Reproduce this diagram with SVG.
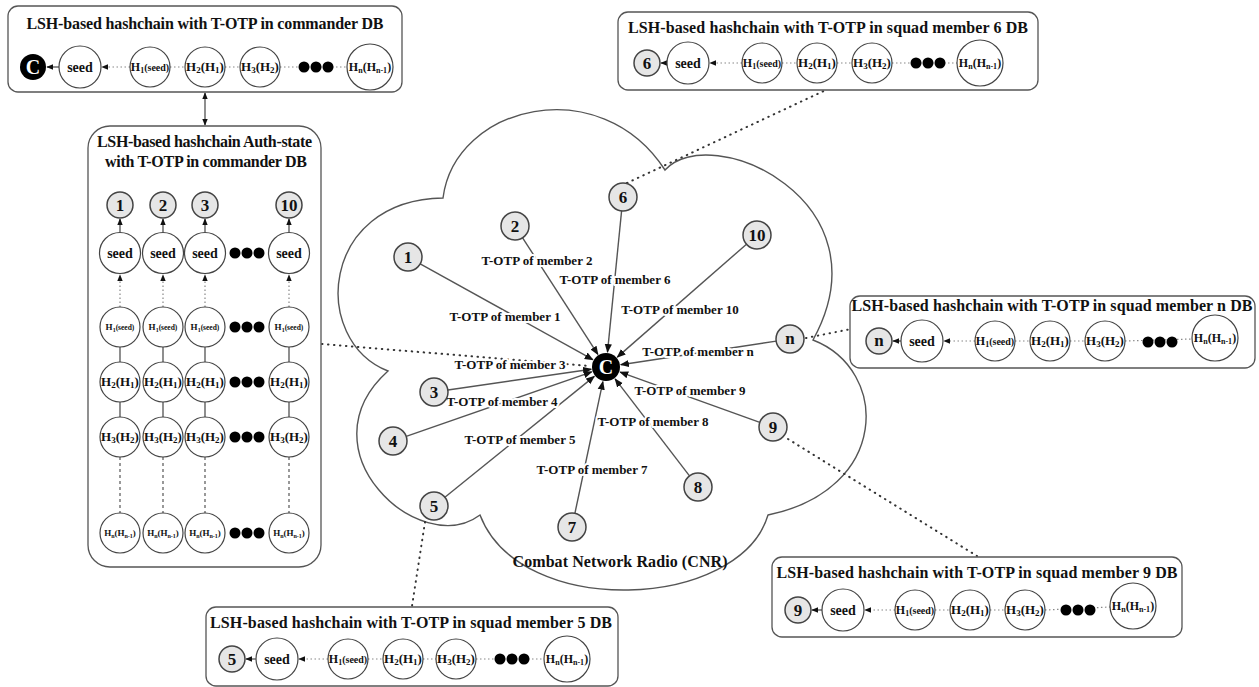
<svg xmlns="http://www.w3.org/2000/svg" width="1259" height="687" viewBox="0 0 1259 687">
<defs>
<style>
.box{fill:#fff;stroke:#555;stroke-width:1.3}
.n{fill:#fff;stroke:#444;stroke-width:1.2}
.g{fill:#e6e6e6;stroke:#444;stroke-width:1.5}
.t{font-family:"Liberation Serif","Times New Roman",serif;font-weight:bold;fill:#111}
.title{font-size:16px}
.seed{font-size:14px}
.num{font-size:17px}
.lbl{font-size:13px;paint-order:stroke;stroke:#fff;stroke-width:4px;stroke-linejoin:round}
.dl{stroke:#888;stroke-width:1.2;stroke-dasharray:1.5 2.5;fill:none}
.sl{stroke:#444;stroke-width:1.2;fill:none}
.dash{stroke:#555;stroke-width:1.2;stroke-dasharray:3 3;fill:none}
.ar{marker-end:url(#sa)}
.edge{stroke:#555;stroke-width:1.4;fill:none;marker-end:url(#ah)}
.far{stroke:#333;stroke-width:2;stroke-dasharray:0.5 5.5;stroke-linecap:round;fill:none}
.cloud{fill:#fff;stroke:#555;stroke-width:1.4}
</style>
<marker id="ah" viewBox="0 0 10 10" refX="9" refY="5" markerUnits="userSpaceOnUse" markerWidth="9" markerHeight="9" orient="auto-start-reverse"><path d="M0,1 L10,5 L0,9 z" fill="#111"/></marker>
<marker id="sa" viewBox="0 0 10 10" refX="9" refY="5" markerUnits="userSpaceOnUse" markerWidth="7" markerHeight="7" orient="auto-start-reverse"><path d="M0,1 L10,5 L0,9 z" fill="#111"/></marker>
</defs>
<rect width="1259" height="687" fill="#fff"/>

<!-- cloud -->
<path id="cloud" class="cloud" d="M443,198 C455,105 600,70 665,170 C710,120 890,200 813,340 C890,370 890,490 768,515 C740,610 520,620 480,515 C420,560 300,450 388,371 C310,340 320,200 443,198 Z"/>
<text class="t" x="620" y="567" font-size="16" text-anchor="middle" textLength="215">Combat Network Radio (CNR)</text>

<!-- connectors -->
<g id="connectors">
<line class="far" x1="322" y1="344" x2="590" y2="366"/>
<line class="far" x1="627" y1="183" x2="828" y2="89"/>
<line class="far" x1="806" y1="338" x2="851" y2="329"/>
<line class="far" x1="788" y1="439" x2="977" y2="556"/>
<line class="far" x1="425" y1="522" x2="412" y2="606"/>
<line class="sl" x1="205" y1="93" x2="205" y2="125" marker-start="url(#sa)" marker-end="url(#sa)"/>
<line class="edge" x1="420.2" y1="263.8" x2="592.9" y2="359.7"/>
<line class="edge" x1="522.6" y1="237.8" x2="597.9" y2="354.4"/>
<line class="edge" x1="621.6" y1="210.9" x2="607.5" y2="352.1"/>
<line class="edge" x1="746.5" y1="244.2" x2="617.3" y2="357.1"/>
<line class="edge" x1="776.2" y1="341.1" x2="620.8" y2="364.7"/>
<line class="edge" x1="759.8" y1="422.3" x2="620.1" y2="372.1"/>
<line class="edge" x1="689.5" y1="475.9" x2="615.1" y2="378.9"/>
<line class="edge" x1="574.9" y1="513.3" x2="602.9" y2="381.7"/>
<line class="edge" x1="444.9" y1="497.2" x2="594.3" y2="376.4"/>
<line class="edge" x1="406.2" y1="436.4" x2="591.8" y2="371.9"/>
<line class="edge" x1="447.9" y1="390" x2="591.2" y2="369.2"/>
</g>

<!-- labels -->
<g id="labels" class="t lbl" text-anchor="middle">
<text x="537" y="265">T-OTP of member 2</text>
<text x="615" y="284">T-OTP of member 6</text>
<text x="505" y="321">T-OTP of member 1</text>
<text x="680" y="314">T-OTP of member 10</text>
<text x="698" y="356">T-OTP of member n</text>
<text x="510" y="369">T-OTP of member 3</text>
<text x="502" y="406">T-OTP of member 4</text>
<text x="690" y="395">T-OTP of member 9</text>
<text x="653" y="426">T-OTP of member 8</text>
<text x="520" y="444">T-OTP of member 5</text>
<text x="592" y="474">T-OTP of member 7</text>
</g>

<!-- member nodes -->
<g class="t num" text-anchor="middle">
<g id="m1"><circle class="g" cx="408" cy="257" r="14"/><text x="408" y="263">1</text></g>
<g id="m2"><circle class="g" cx="515" cy="226" r="14"/><text x="515" y="232">2</text></g>
<g id="m6"><circle class="g" cx="623" cy="197" r="14"/><text x="623" y="203">6</text></g>
<g id="m10"><circle class="g" cx="757" cy="235" r="14"/><text x="757" y="241">10</text></g>
<g id="mn"><circle class="g" cx="790" cy="339" r="14"/><text x="790" y="344">n</text></g>
<g id="m9"><circle class="g" cx="773" cy="427" r="14"/><text x="773" y="433">9</text></g>
<g id="m8"><circle class="g" cx="698" cy="487" r="14"/><text x="698" y="493">8</text></g>
<g id="m7"><circle class="g" cx="572" cy="527" r="14"/><text x="572" y="533">7</text></g>
<g id="m5"><circle class="g" cx="434" cy="506" r="14"/><text x="434" y="512">5</text></g>
<g id="m4"><circle class="g" cx="393" cy="441" r="14"/><text x="393" y="447">4</text></g>
<g id="m3"><circle class="g" cx="434" cy="392" r="14"/><text x="434" y="398">3</text></g>
</g>
<g id="commander"><circle cx="606" cy="367" r="14" fill="#000"/><text class="t" x="606" y="374" font-size="20" text-anchor="middle" style="fill:#fff">C</text></g>

<!-- Commander DB -->
<g id="commanderDB">
<rect class="box" x="8" y="6" width="394" height="86" rx="10"/>
<text class="t title" x="205" y="29" text-anchor="middle" textLength="357">LSH-based hashchain with T-OTP in commander DB</text>
<line class="sl ar" x1="59" y1="67" x2="47" y2="67"/>
<line class="dl ar" x1="130" y1="67" x2="102" y2="67"/>
<line class="dl" x1="170" y1="67" x2="185" y2="67"/>
<line class="dl" x1="225" y1="67" x2="240" y2="67"/>
<line class="dl" x1="280" y1="67" x2="347" y2="67"/>
<circle cx="33" cy="67" r="13" fill="#000"/><text class="t" x="33" y="74" font-size="20" text-anchor="middle" style="fill:#fff">C</text>
<circle class="n" cx="80" cy="67" r="21"/><text class="t seed" x="80" y="72" text-anchor="middle">seed</text>
<circle class="n" cx="150" cy="67" r="20"/><text class="t" x="150" y="71" font-size="12" text-anchor="middle">H<tspan font-size="8" dy="2">1</tspan><tspan font-size="10" dy="-2">(seed)</tspan></text>
<circle class="n" cx="205" cy="67" r="20"/><text class="t" x="205" y="71" font-size="13" text-anchor="middle">H<tspan font-size="9" dy="2">2</tspan><tspan dy="-2">(H</tspan><tspan font-size="9" dy="2">1</tspan><tspan dy="-2">)</tspan></text>
<circle class="n" cx="260" cy="67" r="20"/><text class="t" x="260" y="71" font-size="13" text-anchor="middle">H<tspan font-size="9" dy="2">3</tspan><tspan dy="-2">(H</tspan><tspan font-size="9" dy="2">2</tspan><tspan dy="-2">)</tspan></text>
<circle cx="304" cy="67" r="5.5" fill="#000"/><circle cx="316" cy="67" r="5.5" fill="#000"/><circle cx="328" cy="67" r="5.5" fill="#000"/>
<circle class="n" cx="370" cy="67" r="23"/><text class="t" x="370" y="71" font-size="12" text-anchor="middle">H<tspan font-size="8" dy="2">n</tspan><tspan dy="-2">(H</tspan><tspan font-size="8" dy="2">n-1</tspan><tspan dy="-2">)</tspan></text>
</g>

<!-- Auth-state box -->
<g id="authDB">
<rect class="box" x="88" y="126" width="233" height="441" rx="22"/>
<text class="t title" x="204.5" y="147" text-anchor="middle" textLength="215">LSH-based hashchain Auth-state</text>
<text class="t title" x="206" y="167" text-anchor="middle" textLength="202">with T-OTP in commander DB</text>
<g id="authCols">
<line class="sl ar" x1="120" y1="232" x2="120" y2="219"/><line class="sl ar" x1="163" y1="232" x2="163" y2="219"/><line class="sl ar" x1="205" y1="232" x2="205" y2="219"/><line class="sl ar" x1="289" y1="232" x2="289" y2="219"/>
<line class="dl ar" x1="120" y1="307" x2="120" y2="275"/><line class="dl ar" x1="163" y1="307" x2="163" y2="275"/><line class="dl ar" x1="205" y1="307" x2="205" y2="275"/><line class="dl ar" x1="289" y1="307" x2="289" y2="275"/>
<line class="sl" x1="120" y1="347" x2="120" y2="362"/><line class="sl" x1="163" y1="347" x2="163" y2="362"/><line class="sl" x1="205" y1="347" x2="205" y2="362"/><line class="sl" x1="289" y1="347" x2="289" y2="362"/>
<line class="sl" x1="120" y1="402" x2="120" y2="417"/><line class="sl" x1="163" y1="402" x2="163" y2="417"/><line class="sl" x1="205" y1="402" x2="205" y2="417"/><line class="sl" x1="289" y1="402" x2="289" y2="417"/>
<line class="dash" x1="120" y1="457" x2="120" y2="513"/><line class="dash" x1="163" y1="457" x2="163" y2="513"/><line class="dash" x1="205" y1="457" x2="205" y2="513"/><line class="dash" x1="289" y1="457" x2="289" y2="513"/>
</g>
<g class="t num" text-anchor="middle">
<circle class="g" cx="120" cy="205" r="13"/><text x="120" y="211">1</text>
<circle class="g" cx="163" cy="205" r="13"/><text x="163" y="211">2</text>
<circle class="g" cx="205" cy="205" r="13"/><text x="205" y="211">3</text>
<circle class="g" cx="289" cy="205" r="13"/><text x="289" y="211">10</text>
</g>
<g class="t seed" text-anchor="middle">
<circle class="n" cx="120" cy="253" r="20.5"/><text x="120" y="258">seed</text>
<circle class="n" cx="163" cy="253" r="20.5"/><text x="163" y="258">seed</text>
<circle class="n" cx="205" cy="253" r="20.5"/><text x="205" y="258">seed</text>
<circle class="n" cx="289" cy="253" r="20.5"/><text x="289" y="258">seed</text>
</g>
<g class="t" text-anchor="middle" font-size="9">
<circle class="n" cx="120" cy="327" r="20"/><text x="120" y="330">H<tspan font-size="6" dy="2">1</tspan><tspan font-size="7.5" dy="-2">(seed)</tspan></text>
<circle class="n" cx="163" cy="327" r="20"/><text x="163" y="330">H<tspan font-size="6" dy="2">1</tspan><tspan font-size="7.5" dy="-2">(seed)</tspan></text>
<circle class="n" cx="205" cy="327" r="20"/><text x="205" y="330">H<tspan font-size="6" dy="2">1</tspan><tspan font-size="7.5" dy="-2">(seed)</tspan></text>
<circle class="n" cx="289" cy="327" r="20"/><text x="289" y="330">H<tspan font-size="6" dy="2">1</tspan><tspan font-size="7.5" dy="-2">(seed)</tspan></text>
</g>
<g class="t" text-anchor="middle" font-size="13">
<circle class="n" cx="120" cy="382" r="20"/><text x="120" y="386">H<tspan font-size="9" dy="2">2</tspan><tspan dy="-2">(H</tspan><tspan font-size="9" dy="2">1</tspan><tspan dy="-2">)</tspan></text>
<circle class="n" cx="163" cy="382" r="20"/><text x="163" y="386">H<tspan font-size="9" dy="2">2</tspan><tspan dy="-2">(H</tspan><tspan font-size="9" dy="2">1</tspan><tspan dy="-2">)</tspan></text>
<circle class="n" cx="205" cy="382" r="20"/><text x="205" y="386">H<tspan font-size="9" dy="2">2</tspan><tspan dy="-2">(H</tspan><tspan font-size="9" dy="2">1</tspan><tspan dy="-2">)</tspan></text>
<circle class="n" cx="289" cy="382" r="20"/><text x="289" y="386">H<tspan font-size="9" dy="2">2</tspan><tspan dy="-2">(H</tspan><tspan font-size="9" dy="2">1</tspan><tspan dy="-2">)</tspan></text>
<circle class="n" cx="120" cy="437" r="20"/><text x="120" y="441">H<tspan font-size="9" dy="2">3</tspan><tspan dy="-2">(H</tspan><tspan font-size="9" dy="2">2</tspan><tspan dy="-2">)</tspan></text>
<circle class="n" cx="163" cy="437" r="20"/><text x="163" y="441">H<tspan font-size="9" dy="2">3</tspan><tspan dy="-2">(H</tspan><tspan font-size="9" dy="2">2</tspan><tspan dy="-2">)</tspan></text>
<circle class="n" cx="205" cy="437" r="20"/><text x="205" y="441">H<tspan font-size="9" dy="2">3</tspan><tspan dy="-2">(H</tspan><tspan font-size="9" dy="2">2</tspan><tspan dy="-2">)</tspan></text>
<circle class="n" cx="289" cy="437" r="20"/><text x="289" y="441">H<tspan font-size="9" dy="2">3</tspan><tspan dy="-2">(H</tspan><tspan font-size="9" dy="2">2</tspan><tspan dy="-2">)</tspan></text>
</g>
<g class="t" text-anchor="middle" font-size="9">
<circle class="n" cx="120" cy="533" r="20"/><text x="120" y="536">H<tspan font-size="6" dy="2">n</tspan><tspan dy="-2">(H</tspan><tspan font-size="6" dy="2">n-1</tspan><tspan dy="-2">)</tspan></text>
<circle class="n" cx="163" cy="533" r="20"/><text x="163" y="536">H<tspan font-size="6" dy="2">n</tspan><tspan dy="-2">(H</tspan><tspan font-size="6" dy="2">n-1</tspan><tspan dy="-2">)</tspan></text>
<circle class="n" cx="205" cy="533" r="20"/><text x="205" y="536">H<tspan font-size="6" dy="2">n</tspan><tspan dy="-2">(H</tspan><tspan font-size="6" dy="2">n-1</tspan><tspan dy="-2">)</tspan></text>
<circle class="n" cx="289" cy="533" r="20"/><text x="289" y="536">H<tspan font-size="6" dy="2">n</tspan><tspan dy="-2">(H</tspan><tspan font-size="6" dy="2">n-1</tspan><tspan dy="-2">)</tspan></text>
</g>
<g fill="#000">
<circle cx="235" cy="253" r="5.5"/><circle cx="247" cy="253" r="5.5"/><circle cx="259" cy="253" r="5.5"/>
<circle cx="235" cy="327" r="5.5"/><circle cx="247" cy="327" r="5.5"/><circle cx="259" cy="327" r="5.5"/>
<circle cx="235" cy="382" r="5.5"/><circle cx="247" cy="382" r="5.5"/><circle cx="259" cy="382" r="5.5"/>
<circle cx="235" cy="437" r="5.5"/><circle cx="247" cy="437" r="5.5"/><circle cx="259" cy="437" r="5.5"/>
<circle cx="235" cy="533" r="5.5"/><circle cx="247" cy="533" r="5.5"/><circle cx="259" cy="533" r="5.5"/>
</g>
</g>

<!-- Squad member 6 DB -->
<g id="squad6DB">
<rect class="box" x="618" y="12" width="420" height="78" rx="10"/>
<text class="t title" x="828" y="33" text-anchor="middle" textLength="400">LSH-based hashchain with T-OTP in squad member 6 DB</text>
<line class="sl ar" x1="667" y1="63" x2="661" y2="63"/>
<line class="dl ar" x1="742" y1="63" x2="710" y2="63"/>
<line class="dl" x1="782" y1="63" x2="797" y2="63"/>
<line class="dl" x1="837" y1="63" x2="852" y2="63"/>
<line class="dl" x1="892" y1="63" x2="957" y2="63"/>
<circle class="g" cx="647" cy="63" r="13"/><text class="t num" x="647" y="69" text-anchor="middle">6</text>
<circle class="n" cx="688" cy="63" r="21"/><text class="t seed" x="688" y="68" text-anchor="middle">seed</text>
<circle class="n" cx="762" cy="63" r="20"/><text class="t" x="762" y="67" font-size="12" text-anchor="middle">H<tspan font-size="8" dy="2">1</tspan><tspan font-size="10" dy="-2">(seed)</tspan></text>
<circle class="n" cx="817" cy="63" r="20"/><text class="t" x="817" y="67" font-size="13" text-anchor="middle">H<tspan font-size="9" dy="2">2</tspan><tspan dy="-2">(H</tspan><tspan font-size="9" dy="2">1</tspan><tspan dy="-2">)</tspan></text>
<circle class="n" cx="872" cy="63" r="20"/><text class="t" x="872" y="67" font-size="13" text-anchor="middle">H<tspan font-size="9" dy="2">3</tspan><tspan dy="-2">(H</tspan><tspan font-size="9" dy="2">2</tspan><tspan dy="-2">)</tspan></text>
<circle cx="916" cy="63" r="5.5" fill="#000"/><circle cx="928" cy="63" r="5.5" fill="#000"/><circle cx="940" cy="63" r="5.5" fill="#000"/>
<circle class="n" cx="980" cy="63" r="23"/><text class="t" x="980" y="67" font-size="12" text-anchor="middle">H<tspan font-size="8" dy="2">n</tspan><tspan dy="-2">(H</tspan><tspan font-size="8" dy="2">n-1</tspan><tspan dy="-2">)</tspan></text>
</g>

<!-- Squad member n DB -->
<g id="squadnDB">
<rect class="box" x="850" y="296" width="405" height="72" rx="10"/>
<text class="t title" x="1052" y="311" text-anchor="middle" textLength="401">LSH-based hashchain with T-OTP in squad member n DB</text>
<line class="sl ar" x1="901" y1="341" x2="893" y2="341"/>
<line class="dl ar" x1="975" y1="341" x2="944" y2="341"/>
<line class="dl" x1="1015" y1="341" x2="1030" y2="341"/>
<line class="dl" x1="1070" y1="341" x2="1085" y2="341"/>
<line class="dl" x1="1125" y1="341" x2="1192" y2="339"/>
<circle class="g" cx="879" cy="341" r="13"/><text class="t num" x="879" y="346" text-anchor="middle">n</text>
<circle class="n" cx="922" cy="341" r="21"/><text class="t seed" x="922" y="346" text-anchor="middle">seed</text>
<circle class="n" cx="995" cy="341" r="20"/><text class="t" x="995" y="345" font-size="12" text-anchor="middle">H<tspan font-size="8" dy="2">1</tspan><tspan font-size="10" dy="-2">(seed)</tspan></text>
<circle class="n" cx="1050" cy="341" r="20"/><text class="t" x="1050" y="345" font-size="13" text-anchor="middle">H<tspan font-size="9" dy="2">2</tspan><tspan dy="-2">(H</tspan><tspan font-size="9" dy="2">1</tspan><tspan dy="-2">)</tspan></text>
<circle class="n" cx="1105" cy="341" r="20"/><text class="t" x="1105" y="345" font-size="13" text-anchor="middle">H<tspan font-size="9" dy="2">3</tspan><tspan dy="-2">(H</tspan><tspan font-size="9" dy="2">2</tspan><tspan dy="-2">)</tspan></text>
<circle cx="1148" cy="342" r="5.5" fill="#000"/><circle cx="1160" cy="342" r="5.5" fill="#000"/><circle cx="1172" cy="342" r="5.5" fill="#000"/>
<circle class="n" cx="1215" cy="338" r="23"/><text class="t" x="1215" y="342" font-size="12" text-anchor="middle">H<tspan font-size="8" dy="2">n</tspan><tspan dy="-2">(H</tspan><tspan font-size="8" dy="2">n-1</tspan><tspan dy="-2">)</tspan></text>
</g>

<!-- Squad member 5 DB -->
<g id="squad5DB">
<rect class="box" x="206" y="607" width="412" height="79" rx="10"/>
<text class="t title" x="411" y="628" text-anchor="middle" textLength="402">LSH-based hashchain with T-OTP in squad member 5 DB</text>
<line class="sl ar" x1="256" y1="659" x2="246" y2="659"/>
<line class="dl ar" x1="328" y1="659" x2="299" y2="659"/>
<line class="dl" x1="368" y1="659" x2="383" y2="659"/>
<line class="dl" x1="423" y1="659" x2="436" y2="659"/>
<line class="dl" x1="476" y1="659" x2="544" y2="659"/>
<circle class="g" cx="232" cy="659" r="13"/><text class="t num" x="232" y="665" text-anchor="middle">5</text>
<circle class="n" cx="277" cy="659" r="21"/><text class="t seed" x="277" y="664" text-anchor="middle">seed</text>
<circle class="n" cx="348" cy="659" r="20"/><text class="t" x="348" y="663" font-size="12" text-anchor="middle">H<tspan font-size="8" dy="2">1</tspan><tspan font-size="10" dy="-2">(seed)</tspan></text>
<circle class="n" cx="403" cy="659" r="20"/><text class="t" x="403" y="663" font-size="13" text-anchor="middle">H<tspan font-size="9" dy="2">2</tspan><tspan dy="-2">(H</tspan><tspan font-size="9" dy="2">1</tspan><tspan dy="-2">)</tspan></text>
<circle class="n" cx="456" cy="659" r="20"/><text class="t" x="456" y="663" font-size="13" text-anchor="middle">H<tspan font-size="9" dy="2">3</tspan><tspan dy="-2">(H</tspan><tspan font-size="9" dy="2">2</tspan><tspan dy="-2">)</tspan></text>
<circle cx="500" cy="659" r="5.5" fill="#000"/><circle cx="512" cy="659" r="5.5" fill="#000"/><circle cx="524" cy="659" r="5.5" fill="#000"/>
<circle class="n" cx="567" cy="659" r="23"/><text class="t" x="567" y="663" font-size="12" text-anchor="middle">H<tspan font-size="8" dy="2">n</tspan><tspan dy="-2">(H</tspan><tspan font-size="8" dy="2">n-1</tspan><tspan dy="-2">)</tspan></text>
</g>

<!-- Squad member 9 DB -->
<g id="squad9DB">
<rect class="box" x="772" y="557" width="410" height="80" rx="10"/>
<text class="t title" x="977" y="578" text-anchor="middle" textLength="401">LSH-based hashchain with T-OTP in squad member 9 DB</text>
<line class="sl ar" x1="822" y1="610" x2="812" y2="610"/>
<line class="dl ar" x1="895" y1="610" x2="865" y2="610"/>
<line class="dl" x1="935" y1="610" x2="950" y2="610"/>
<line class="dl" x1="990" y1="610" x2="1005" y2="610"/>
<line class="dl" x1="1045" y1="610" x2="1110" y2="607"/>
<circle class="g" cx="798" cy="610" r="13"/><text class="t num" x="798" y="616" text-anchor="middle">9</text>
<circle class="n" cx="843" cy="610" r="21"/><text class="t seed" x="843" y="615" text-anchor="middle">seed</text>
<circle class="n" cx="915" cy="610" r="20"/><text class="t" x="915" y="614" font-size="12" text-anchor="middle">H<tspan font-size="8" dy="2">1</tspan><tspan font-size="10" dy="-2">(seed)</tspan></text>
<circle class="n" cx="970" cy="610" r="20"/><text class="t" x="970" y="614" font-size="13" text-anchor="middle">H<tspan font-size="9" dy="2">2</tspan><tspan dy="-2">(H</tspan><tspan font-size="9" dy="2">1</tspan><tspan dy="-2">)</tspan></text>
<circle class="n" cx="1025" cy="610" r="20"/><text class="t" x="1025" y="614" font-size="13" text-anchor="middle">H<tspan font-size="9" dy="2">3</tspan><tspan dy="-2">(H</tspan><tspan font-size="9" dy="2">2</tspan><tspan dy="-2">)</tspan></text>
<circle cx="1066" cy="610" r="5.5" fill="#000"/><circle cx="1078" cy="610" r="5.5" fill="#000"/><circle cx="1090" cy="610" r="5.5" fill="#000"/>
<circle class="n" cx="1133" cy="606" r="23"/><text class="t" x="1133" y="610" font-size="12" text-anchor="middle">H<tspan font-size="8" dy="2">n</tspan><tspan dy="-2">(H</tspan><tspan font-size="8" dy="2">n-1</tspan><tspan dy="-2">)</tspan></text>
</g>
</svg>
